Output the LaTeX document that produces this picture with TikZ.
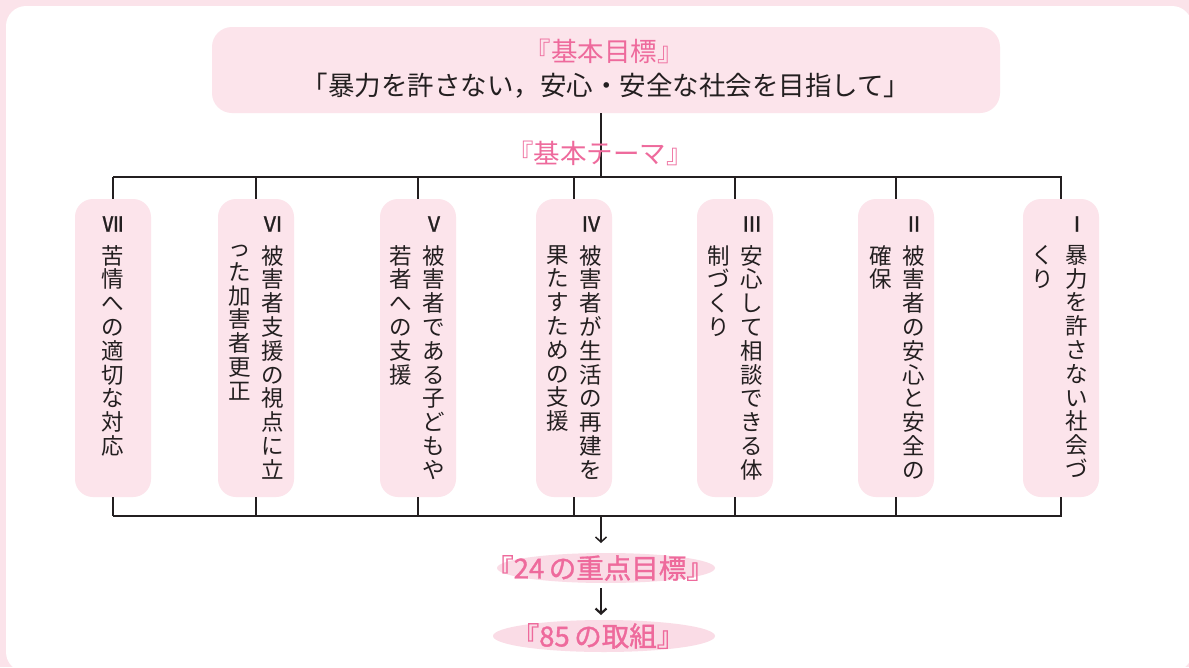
\documentclass[tikz,border=0pt]{standalone}
\usepackage{fontspec}
\newfontfamily\jp{Noto Sans CJK JP}
\newfontfamily\jpb[FakeBold=1.2]{Noto Sans CJK JP}
\usetikzlibrary{arrows.meta,shapes.geometric}
\definecolor{bgpink}{HTML}{FBE3EA}
\definecolor{boxpink}{HTML}{FCE4EB}
\definecolor{ellpink}{HTML}{FADCE6}
\definecolor{titlepink}{HTML}{EE6A9C}
\definecolor{ink}{HTML}{231F20}
\tikzset{
  pillar/.style={fill=boxpink, rounded corners=18pt, minimum width=76pt, minimum height=298pt, inner sep=0pt},
  vtxt/.style={font=\jp\fontsize{22.5}{23.8}\selectfont, align=center, anchor=north, inner sep=0pt, text=ink},
  numtxt/.style={font=\jpb\fontsize{21}{21}\selectfont, inner sep=0pt, text=ink},
  conn/.style={draw=ink, line width=1.5pt},
  pinktitle/.style={font=\jp\fontsize{26.5}{26.5}\selectfont, text=titlepink, inner sep=0pt},
  ell/.style={ellipse, fill=ellpink, inner sep=0pt},
  ptext/.style={font=\jpb\fontsize{27.5}{27.5}\selectfont, text=titlepink, inner sep=0pt},
}
\begin{document}
\begin{tikzpicture}[x=1pt,y=-1pt]
\useasboundingbox (0,0) rectangle (1189,667);
\fill[bgpink] (0,0) rectangle (1189,667);
\fill[white, rounded corners=20pt] (6,6) rectangle (1192,672);

% goal box
\node[fill=boxpink, rounded corners=20pt, minimum width=788pt, minimum height=86pt, inner sep=0pt] (goal) at (606,70) {};
\node[pinktitle] (goalt) at (604,51) {『基本目標』};
\node[font=\jp\fontsize{26.5}{26.5}\selectfont, text=ink, inner sep=0pt] (goals) at (606,86) {「暴力を許さない，安心・安全な社会を目指して」};

% bars
\coordinate (bt) at (601,177);
\coordinate (btl) at (113,177);
\coordinate (btr) at (1062,177);
\coordinate (bb) at (601,516);
\coordinate (bbl) at (113,516);
\coordinate (bbr) at (1062,516);
\coordinate (a1e) at (601,543);
\coordinate (a2s) at (601,588);
\coordinate (a2e) at (601,615);

\draw[conn] (goal.south -| bt) -- (bt);
\node[pinktitle] (theme) at (600,153) {『基本テーマ』};
\draw[conn] (btl) -- (btr);
\draw[conn] (bbl) -- (bbr);

% pillars
\node[pillar] (p7) at (113,348) {};
\node[pillar] (p6) at (256,348) {};
\node[pillar] (p5) at (418,348) {};
\node[pillar] (p4) at (574,348) {};
\node[pillar] (p3) at (735,348) {};
\node[pillar] (p2) at (896,348) {};
\node[pillar] (p1) at (1061,348) {};

\foreach \p in {p1,p2,p3,p4,p5,p6,p7}{
  \draw[conn] (\p.north |- bt) -- (\p.north);
  \draw[conn] (\p.south) -- (\p.south |- bb);
}

% VII
\node[numtxt] (n7) at (113,224) {Ⅶ};
\node[vtxt] (t7) at (113,245) {苦\\情\\へ\\の\\適\\切\\な\\対\\応};
% VI
\node[numtxt] (n6) at (273,224) {Ⅵ};
\node[vtxt] (t6a) at (273,245) {被\\害\\者\\支\\援\\の\\視\\点\\に\\立};
\node[vtxt] (t6b) at (240,245) {っ\\た\\加\\害\\者\\更\\正};
% V
\node[numtxt] (n5) at (434,224) {Ⅴ};
\node[vtxt] (t5a) at (434,245) {被\\害\\者\\で\\あ\\る\\子\\ど\\も\\や};
\node[vtxt] (t5b) at (401,245) {若\\者\\へ\\の\\支\\援};
% IV
\node[numtxt] (n4) at (591,224) {Ⅳ};
\node[vtxt] (t4a) at (591,245) {被\\害\\者\\が\\生\\活\\の\\再\\建\\を};
\node[vtxt] (t4b) at (558,245) {果\\た\\す\\た\\め\\の\\支\\援};
% III
\node[numtxt] (n3) at (752,224) {Ⅲ};
\node[vtxt] (t3a) at (752,245) {安\\心\\し\\て\\相\\談\\で\\き\\る\\体};
\node[vtxt] (t3b) at (719,245) {制\\づ\\く\\り};
% II
\node[numtxt] (n2) at (914,224) {Ⅱ};
\node[vtxt] (t2a) at (914,245) {被\\害\\者\\の\\安\\心\\と\\安\\全\\の};
\node[vtxt] (t2b) at (881,245) {確\\保};
% I
\node[numtxt] (n1) at (1077,224) {Ⅰ};
\node[vtxt] (t1a) at (1077,245) {暴\\力\\を\\許\\さ\\な\\い\\社\\会\\づ};
\node[vtxt] (t1b) at (1043,245) {く\\り};

% bottom targets
\node[ell, minimum width=218pt, minimum height=30pt] (e1) at (606,568) {};
\node[ptext] (e1t) at (600,568) {『24\,の重点目標』};
\node[ell, minimum width=222pt, minimum height=32pt] (e2) at (604,636) {};
\node[ptext] (e2t) at (598,636) {『85\,の取組』};

\draw[conn, line width=1.3pt, -{Straight Barb[length=5pt,width=11pt,line width=1.5pt]}] (bb) -- (a1e);
\draw[conn, line width=2.6pt, -{Straight Barb[length=5pt,width=11pt,line width=2.2pt]}] (a2s) -- (a2e);
\end{tikzpicture}
\end{document}
